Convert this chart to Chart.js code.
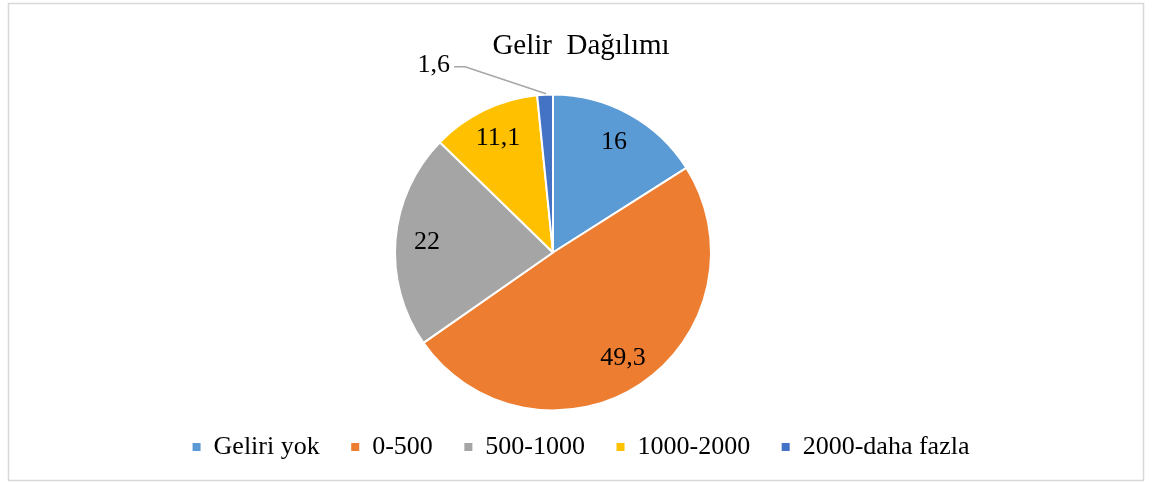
<!DOCTYPE html>
<html>
<head>
<meta charset="utf-8">
<script src="https://cdn.jsdelivr.net/npm/chart.js@4/dist/chart.umd.min.js"></script>
<style>
  body { margin: 0; background: #fff; }
  canvas { display: block; }
</style>
</head>
<body>
<canvas id="myChart" width="1152" height="483"></canvas>
<script>
const categories = ["Geliri yok", "0-500", "500-1000", "1000-2000", "2000-daha fazla"];
const shares = [16, 49.3, 22, 11.1, 1.6];
const sliceColors = ["#5B9BD5", "#ED7D31", "#A5A5A5", "#FFC000", "#4472C4"];
const chartTitle = "Gelir  Dağılımı";

const serif = "'Liberation Serif', 'Times New Roman', serif";

function formatShare(v) {
  return String(v).replace(".", ",");
}

// frame around the whole chart, like the office chart border
const framePlugin = {
  id: "frame",
  beforeDraw(chart) {
    const ctx = chart.ctx;
    ctx.save();
    ctx.fillStyle = "#fff";
    ctx.fillRect(0, 0, chart.width, chart.height);
    ctx.strokeStyle = "#d9d9d9";
    ctx.lineWidth = 1.5;
    ctx.strokeRect(8.5, 3.5, 1135, 477);
    ctx.restore();
  },
};

// pie sits a bit left of the title
const shiftPlugin = {
  id: "shiftPie",
  afterLayout(chart) {
    chart.chartArea.left -= 28;
    chart.chartArea.right -= 28;
  },
};

// value labels, small slices get a leader line outside
const labelPlugin = {
  id: "sliceLabels",
  afterDatasetsDraw(chart) {
    const ctx = chart.ctx;
    const meta = chart.getDatasetMeta(0);
    ctx.save();
    ctx.font = "26px " + serif;
    ctx.fillStyle = "#000";
    ctx.textBaseline = "middle";
    meta.data.forEach((arc, i) => {
      const { x, y, startAngle, endAngle, outerRadius } = arc.getProps(
        ["x", "y", "startAngle", "endAngle", "outerRadius"], true
      );
      const mid = (startAngle + endAngle) / 2;
      const text = formatShare(shares[i]);
      if (shares[i] < 5) {
        const ox = x + Math.cos(mid) * outerRadius;
        const oy = y + Math.sin(mid) * outerRadius;
        const ex = ox - 80;
        const ey = oy - 28;
        ctx.strokeStyle = "#a6a6a6";
        ctx.lineWidth = 1.5;
        ctx.beginPath();
        ctx.moveTo(ox + 1, oy - 1);
        ctx.lineTo(ex, ey);
        ctx.lineTo(ex - 11, ey);
        ctx.stroke();
        ctx.textAlign = "right";
        ctx.fillText(text, ex - 15, ey - 2);
      } else {
        const r = outerRadius * 0.8;
        ctx.textAlign = "center";
        ctx.fillText(text, x + Math.cos(mid) * r, y + Math.sin(mid) * r);
      }
    });
    ctx.restore();
  },
};

const data = {
  labels: categories,
  datasets: [
    {
      data: shares,
      backgroundColor: sliceColors,
      borderColor: "#fff",
      borderWidth: 2,
      radius: 158,
      clip: false,
    },
  ],
};

const config = {
  type: "pie",
  data: data,
  options: {
    responsive: false,
    animation: false,
    devicePixelRatio: 1,
    layout: { padding: { top: 0, left: 10, right: 0, bottom: 13 } },
    plugins: {
      title: {
        display: true,
        text: chartTitle,
        color: "#000",
        font: { family: serif, size: 29, weight: "normal" },
        padding: { top: 28.8, bottom: 38.9 },
      },
      legend: {
        position: "bottom",
        labels: {
          color: "#000",
          font: { family: serif, size: 26 },
          boxWidth: 8,
          boxHeight: 8,
          padding: 31.5,
          generateLabels(chart) {
            return categories.map((name, i) => ({
              text: name,
              fillStyle: sliceColors[i],
              strokeStyle: sliceColors[i],
              lineWidth: 0,
              hidden: !chart.getDataVisibility(i),
              index: i,
            }));
          },
        },
      },
      tooltip: { enabled: false },
    },
  },
  plugins: [framePlugin, shiftPlugin, labelPlugin],
};

let myChart = new Chart(document.getElementById("myChart"), config);
</script>
</body>
</html>
